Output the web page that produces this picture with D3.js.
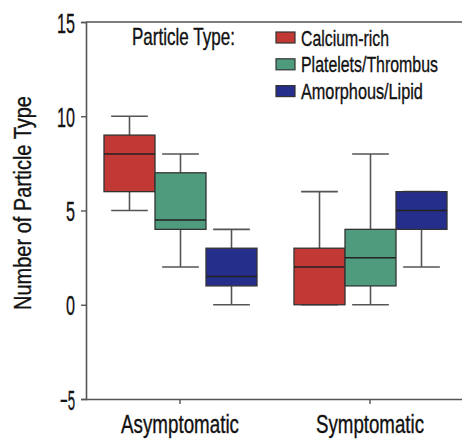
<!DOCTYPE html>
<html><head><meta charset="utf-8">
<script src="https://cdn.jsdelivr.net/npm/d3@7"></script>
<style>
body{margin:0;background:#fff;}
text{font-family:"Liberation Sans",Arial,sans-serif;fill:#111;stroke:#111;stroke-width:0.35px;}
</style></head>
<body><svg id="c" width="462" height="441"></svg>
<script>
const groups = ["Asymptomatic", "Symptomatic"];
const series = ["Calcium-rich", "Platelets/Thrombus", "Amorphous/Lipid"];
const colors = ["#c23834", "#4f9b7d", "#262e8b"];
// [min, q1, median, q3, max] per group, per series
const calcium   = [[5, 6, 8, 9, 10], [0, 0, 2, 3, 6]];
const platelets = [[2, 4, 4.5, 7, 8], [0, 1, 2.5, 4, 8]];
const amorphous = [[0, 1, 1.5, 3, 4], [2, 4, 5, 6, 6]];
const yTicks = [-5, 0, 5, 10, 15];
const legendTitle = "Particle Type:";
const yTitle = "Number of Particle Type";

const seriesValues = [calcium, platelets, amorphous];
const svg = d3.select("#c");
const y = d3.scaleLinear().domain([-5, 15]).range([399, 22]);
const x = d3.scaleBand().domain(groups).range([85, 465]).padding(0);
const xs = d3.scaleBand().domain(series).range([-76, 77]).padding(0);
const left = 86, right = 462;
const lineCol = "#555";

// squeeze a text horizontally to a target width, keeping its anchor point
function fit(sel, w, ax, ay, anchor, extra) {
  const node = sel.node();
  const nat = node.getComputedTextLength();
  const k = w / nat;
  sel.attr("text-anchor", anchor || "start").attr("x", 0).attr("y", 0).attr("dy", null)
    .attr("transform", `translate(${ax},${ay})${extra || ""} scale(${k},1)`);
}

// frame line at top
svg.append("line").attr("x1", left).attr("x2", right).attr("y1", y(15)).attr("y2", y(15))
  .attr("stroke", lineCol).attr("stroke-width", 1.6);

// Y axis
const yAxis = svg.append("g").attr("transform", `translate(${left},0)`)
  .call(d3.axisLeft(y).tickValues(yTicks).tickSize(5).tickPadding(5).tickFormat(d3.format("d")));
yAxis.select(".domain").attr("stroke", lineCol).attr("stroke-width", 1.6);
yAxis.selectAll(".tick line").attr("stroke", lineCol).attr("stroke-width", 1.4);
yAxis.selectAll(".tick text").attr("font-size", 28).attr("fill", "#111").attr("font-family", null)
  .each(function(d){
    const s = String(d);
    fit(d3.select(this), s.length * 9 + (d < 0 ? -3 : 0), -11, 10, "end");
  });

// X axis
const xAxis = svg.append("g").attr("transform", `translate(0,${y(-5)})`)
  .call(d3.axisBottom(x).tickSize(5).tickPadding(9).tickSizeOuter(0));
xAxis.select(".domain").attr("d", `M${left},0.5H${right}`).attr("stroke", lineCol).attr("stroke-width", 1.6);
xAxis.selectAll(".tick line").attr("stroke", lineCol).attr("stroke-width", 1.4);
xAxis.selectAll(".tick text").attr("font-size", 25).attr("fill", "#111").attr("font-family", null)
  .each(function(d){
    fit(d3.select(this), d === "Asymptomatic" ? 118 : 108, 0, 34, "middle");
  });

// boxes
const bw = xs.bandwidth();
series.forEach((s, si) => {
  groups.forEach((g, gi) => {
    const v = seriesValues[si][gi];
    const x0 = x(g) + x.bandwidth() / 2 + xs(s);
    const cx = x0 + bw / 2;
    const cap = bw * 0.36;
    const gg = svg.append("g");
    gg.append("line").attr("x1", cx).attr("x2", cx).attr("y1", y(v[4])).attr("y2", y(v[3]))
      .attr("stroke", lineCol).attr("stroke-width", 1.6);
    gg.append("line").attr("x1", cx).attr("x2", cx).attr("y1", y(v[1])).attr("y2", y(v[0]))
      .attr("stroke", lineCol).attr("stroke-width", 1.6);
    gg.append("line").attr("x1", cx - cap).attr("x2", cx + cap).attr("y1", y(v[4])).attr("y2", y(v[4]))
      .attr("stroke", lineCol).attr("stroke-width", 1.6);
    gg.append("line").attr("x1", cx - cap).attr("x2", cx + cap).attr("y1", y(v[0])).attr("y2", y(v[0]))
      .attr("stroke", lineCol).attr("stroke-width", 1.6);
    gg.append("rect").attr("x", x0).attr("width", bw).attr("y", y(v[3])).attr("height", y(v[1]) - y(v[3]))
      .attr("fill", colors[si]).attr("stroke", "#333").attr("stroke-width", 1.3);
    gg.append("line").attr("x1", x0).attr("x2", x0 + bw).attr("y1", y(v[2])).attr("y2", y(v[2]))
      .attr("stroke", "#222").attr("stroke-width", 1.5);
  });
});

// Y title
fit(svg.append("text").attr("font-size", 24).text(yTitle), 214, 31, 203, "middle", " rotate(-90)");

// legend
fit(svg.append("text").attr("font-size", 23).text(legendTitle), 103, 132, 45, "start");
const legW = [88, 137, 122];
series.forEach((s, i) => {
  const cy = 37.5 + i * 26.8;
  svg.append("rect").attr("x", 276).attr("y", cy - 5.5).attr("width", 19).attr("height", 11)
    .attr("fill", colors[i]).attr("stroke", "#333").attr("stroke-width", 1.2);
  fit(svg.append("text").attr("font-size", 22).text(s), legW[i], 301, cy + 8, "start");
});
</script></body></html>
